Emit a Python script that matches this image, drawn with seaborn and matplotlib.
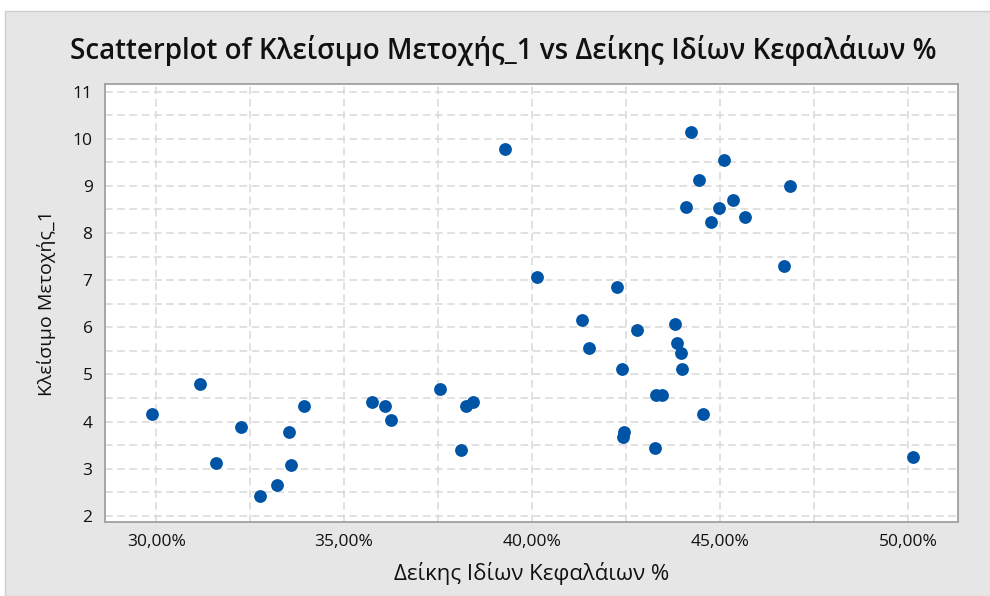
import matplotlib
matplotlib.use("Agg")
import matplotlib.pyplot as plt
import matplotlib.ticker as mticker
from matplotlib.patches import Rectangle
import seaborn as sns
import pandas as pd

# Δείκτης Ιδίων Κεφαλαίων (%) and closing price
equity_ratio = [29.89, 31.18, 31.60, 32.25, 32.75, 33.22, 33.54, 33.58, 33.94,
                35.75, 36.08, 36.25, 37.55, 38.10, 38.23, 38.42, 39.28, 40.12,
                42.25, 41.32, 42.79, 43.81, 41.52, 43.86, 43.96, 42.39, 44.00,
                43.30, 43.45, 44.55, 42.45, 42.43, 43.26,
                44.22, 45.11, 44.45, 45.34, 44.09, 44.96, 45.66, 44.77, 46.70,
                46.86, 50.13]
close_price = [4.17, 4.80, 3.12, 3.88, 2.42, 2.65, 3.78, 3.08, 4.34,
               4.41, 4.34, 4.04, 4.70, 3.39, 4.34, 4.41, 9.78, 7.07,
               6.85, 6.15, 5.95, 6.06, 5.55, 5.66, 5.45, 5.11, 5.11,
               4.56, 4.56, 4.17, 3.77, 3.67, 3.45,
               10.14, 9.54, 9.13, 8.69, 8.56, 8.53, 8.34, 8.23, 7.29,
               9.00, 3.25]

x_ticks = [30, 35, 40, 45, 50]
y_ticks = [2, 3, 4, 5, 6, 7, 8, 9, 10, 11]

df = pd.DataFrame({"x": equity_ratio, "y": close_price})

sns.set_style("white")
plt.rcParams["font.family"] = ["Open Sans", "DejaVu Sans"]

bg = "#e6e6e6"
grid_c = "#d9d9d9"
spine_c = "#a0a0a0"

fig = plt.figure(figsize=(9.9, 5.96), dpi=100)
fig.patch.set_facecolor("white")
fig.add_artist(Rectangle((5 / 990, 0), 1, (596 - 11) / 596, transform=fig.transFigure,
                         facecolor=bg, edgecolor="#cfcfcf", linewidth=1, zorder=-1))

ax = fig.add_axes([105 / 990, (596 - 522) / 596, (958 - 105) / 990, (522 - 84) / 596])
ax.set_facecolor("white")

sns.scatterplot(data=df, x="x", y="y", ax=ax, color="#0054a6", s=85,
                edgecolor="#0054a6", linewidth=0, zorder=3)

ax.set_xlim(28.64, 51.33)
ax.set_ylim(1.87, 11.16)
ax.set_xticks(x_ticks)
ax.set_yticks(y_ticks)
ax.xaxis.set_minor_locator(mticker.MultipleLocator(2.5))
ax.yaxis.set_minor_locator(mticker.MultipleLocator(0.5))
ax.xaxis.set_major_formatter(mticker.FuncFormatter(lambda v, p: f"{v:.2f}%".replace(".", ",")))

ax.grid(True, which="both", color=grid_c, linestyle=(0, (5, 3)), linewidth=1.1, zorder=0)
ax.set_axisbelow(True)

for s in ax.spines.values():
    s.set_color(spine_c)
    s.set_linewidth(1.3)

ax.tick_params(axis="both", which="major", direction="out", length=5, width=1.2,
               color=spine_c, labelsize=12.5, labelcolor="#111111", pad=4)
ax.tick_params(axis="both", which="minor", length=0)

ax.set_xlabel("Δείκης Ιδίων Κεφαλάιων %", fontsize=16, color="#111111", labelpad=8)
ax.set_ylabel("Κλείσιμο Μετοχής_1", fontsize=14, color="#111111", labelpad=12)

fig.text(0.508, 0.915, "Scatterplot of Κλείσιμο Μετοχής_1 vs Δείκης Ιδίων Κεφαλάιων %",
         ha="center", va="center", fontsize=20, fontweight="semibold", color="#111111")

fig.savefig("out.png", dpi=100, facecolor=fig.get_facecolor())
